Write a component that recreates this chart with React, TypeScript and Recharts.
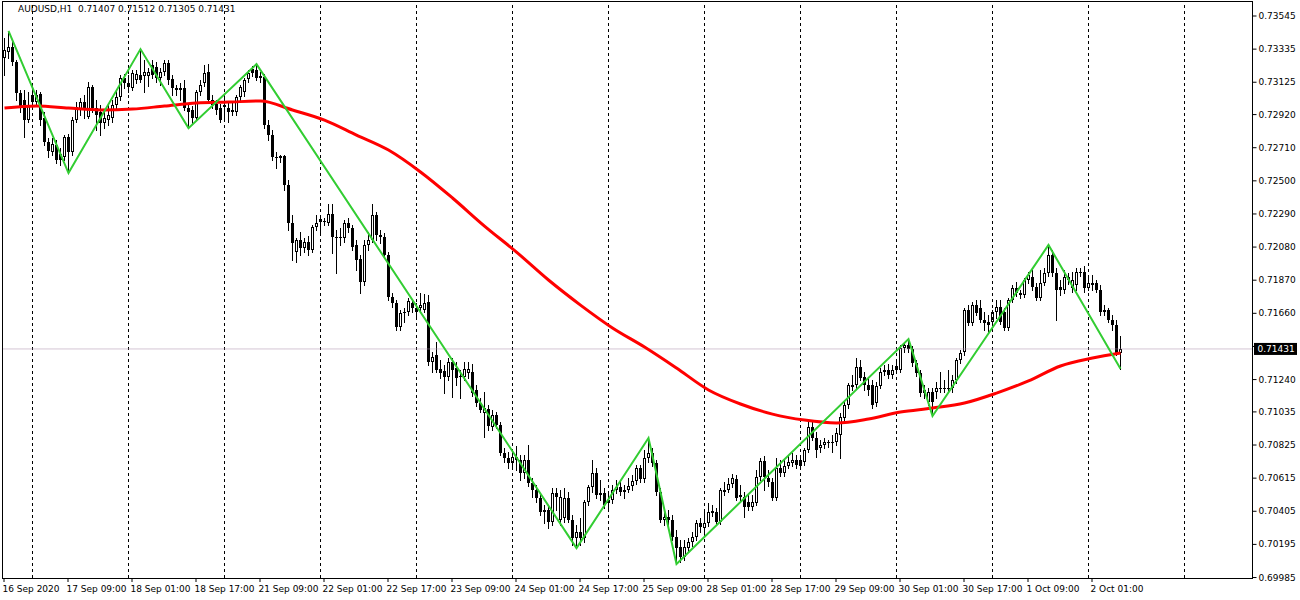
import { ComposedChart, Bar, Line, XAxis, YAxis, ReferenceLine } from 'recharts'

// AUDUSD H1, one entry per bar, oldest first
const opens = [
  0.73275, 0.73313, 0.73345, 0.73250, 0.73053, 0.73009, 0.72882, 0.73041, 0.72996, 0.73047,
  0.72895, 0.72743, 0.72679, 0.72724, 0.72667, 0.72648, 0.72775, 0.72679, 0.72882, 0.72946,
  0.72996, 0.72902, 0.73091, 0.72958, 0.72933, 0.72863, 0.72882, 0.72895, 0.72977, 0.73028,
  0.73148, 0.73117, 0.73085, 0.73136, 0.73167, 0.73161, 0.73161, 0.73231, 0.73218, 0.73148,
  0.73186, 0.73244, 0.73142, 0.73085, 0.73072, 0.73085, 0.72958, 0.72946, 0.72895, 0.73060,
  0.73117, 0.73186, 0.73009, 0.72984, 0.72958, 0.72965, 0.72958, 0.72946, 0.72933, 0.73028,
  0.73060, 0.73142, 0.73206, 0.73199, 0.73148, 0.73155, 0.72850, 0.72787, 0.72648, 0.72641,
  0.72654, 0.72470, 0.72229, 0.72045, 0.72121, 0.72070, 0.72109, 0.72058, 0.72204, 0.72254,
  0.72236, 0.72229, 0.72286, 0.72140, 0.72140, 0.72134, 0.72229, 0.72197, 0.72090, 0.72001,
  0.71855, 0.72090, 0.72121, 0.72280, 0.72153, 0.72140, 0.72026, 0.71760, 0.71722, 0.71570,
  0.71665, 0.71665, 0.71722, 0.71691, 0.71691, 0.71678, 0.71729, 0.71348, 0.71392, 0.71304,
  0.71291, 0.71253, 0.71348, 0.71310, 0.71253, 0.71253, 0.71278, 0.71285, 0.71170, 0.71088,
  0.71025, 0.71050, 0.70936, 0.71012, 0.70949, 0.70771, 0.70740, 0.70708, 0.70746, 0.70727,
  0.70644, 0.70727, 0.70581, 0.70536, 0.70486, 0.70397, 0.70410, 0.70334, 0.70517, 0.70346,
  0.70359, 0.70486, 0.70346, 0.70232, 0.70270, 0.70232, 0.70460, 0.70555, 0.70644, 0.70505,
  0.70517, 0.70473, 0.70473, 0.70536, 0.70555, 0.70524, 0.70536, 0.70562, 0.70594, 0.70676,
  0.70606, 0.70740, 0.70771, 0.70708, 0.70524, 0.70346, 0.70365, 0.70346, 0.70238, 0.70175,
  0.70112, 0.70169, 0.70207, 0.70238, 0.70327, 0.70295, 0.70327, 0.70403, 0.70397, 0.70334,
  0.70524, 0.70536, 0.70575, 0.70606, 0.70505, 0.70492, 0.70460, 0.70429, 0.70454, 0.70619,
  0.70721, 0.70613, 0.70587, 0.70486, 0.70676, 0.70644, 0.70689, 0.70708, 0.70727, 0.70727,
  0.70714, 0.70790, 0.70936, 0.70866, 0.70803, 0.70822, 0.70835, 0.70841, 0.70841, 0.70885,
  0.70993, 0.71075, 0.71202, 0.71202, 0.71316, 0.71253, 0.71202, 0.71202, 0.71088, 0.71196,
  0.71285, 0.71297, 0.71266, 0.71323, 0.71297, 0.71437, 0.71456, 0.71430, 0.71342, 0.71278,
  0.71170, 0.71094, 0.71158, 0.71158, 0.71177, 0.71177, 0.71177, 0.71183, 0.71234, 0.71361,
  0.71411, 0.71678, 0.71595, 0.71710, 0.71691, 0.71614, 0.71602, 0.71602, 0.71665, 0.71697,
  0.71665, 0.71563, 0.71741, 0.71817, 0.71773, 0.71773, 0.71868, 0.71887, 0.71824, 0.71754,
  0.71849, 0.71912, 0.72026, 0.71912, 0.71824, 0.71804, 0.71887, 0.71817, 0.71836, 0.71912,
  0.71919, 0.71817, 0.71849, 0.71849, 0.71804, 0.71678, 0.71678, 0.71614, 0.71583, 0.71407,
]

const highs = [
  0.73402, 0.73447, 0.73377, 0.73263, 0.73072, 0.73072, 0.73060, 0.73085, 0.73072, 0.73060,
  0.72933, 0.72768, 0.72768, 0.72755, 0.72705, 0.72787, 0.72794, 0.72902, 0.72996, 0.73022,
  0.73041, 0.73123, 0.73104, 0.73009, 0.72977, 0.72946, 0.72977, 0.73009, 0.73072, 0.73167,
  0.73174, 0.73167, 0.73199, 0.73199, 0.73332, 0.73263, 0.73212, 0.73263, 0.73250, 0.73212,
  0.73263, 0.73263, 0.73167, 0.73104, 0.73117, 0.73136, 0.72984, 0.72971, 0.73072, 0.73136,
  0.73231, 0.73237, 0.73041, 0.73009, 0.72984, 0.73041, 0.72996, 0.72990, 0.73041, 0.73104,
  0.73148, 0.73199, 0.73225, 0.73237, 0.73186, 0.73174, 0.72882, 0.72819, 0.72679, 0.72660,
  0.72660, 0.72502, 0.72280, 0.72134, 0.72172, 0.72134, 0.72147, 0.72216, 0.72280, 0.72280,
  0.72261, 0.72350, 0.72350, 0.72185, 0.72197, 0.72248, 0.72261, 0.72216, 0.72121, 0.72026,
  0.72121, 0.72172, 0.72350, 0.72299, 0.72185, 0.72166, 0.72045, 0.71785, 0.71741, 0.71678,
  0.71691, 0.71754, 0.71748, 0.71722, 0.71785, 0.71779, 0.71773, 0.71411, 0.71475, 0.71361,
  0.71329, 0.71373, 0.71373, 0.71348, 0.71297, 0.71348, 0.71348, 0.71335, 0.71202, 0.71120,
  0.71158, 0.71075, 0.71044, 0.71031, 0.70968, 0.70803, 0.70777, 0.70790, 0.70816, 0.70758,
  0.70758, 0.70822, 0.70613, 0.70568, 0.70505, 0.70441, 0.70441, 0.70549, 0.70549, 0.70536,
  0.70549, 0.70524, 0.70378, 0.70314, 0.70359, 0.70473, 0.70568, 0.70727, 0.70676, 0.70600,
  0.70549, 0.70511, 0.70568, 0.70600, 0.70600, 0.70568, 0.70613, 0.70632, 0.70695, 0.70695,
  0.70790, 0.70866, 0.70803, 0.70727, 0.70549, 0.70397, 0.70410, 0.70378, 0.70283, 0.70219,
  0.70219, 0.70232, 0.70270, 0.70346, 0.70359, 0.70410, 0.70454, 0.70441, 0.70422, 0.70549,
  0.70587, 0.70613, 0.70638, 0.70632, 0.70568, 0.70524, 0.70505, 0.70505, 0.70663, 0.70740,
  0.70752, 0.70663, 0.70613, 0.70740, 0.70727, 0.70727, 0.70758, 0.70771, 0.70758, 0.70758,
  0.70803, 0.70968, 0.70968, 0.70904, 0.70853, 0.70866, 0.70853, 0.70885, 0.70930, 0.71025,
  0.71094, 0.71215, 0.71265, 0.71373, 0.71361, 0.71285, 0.71246, 0.71234, 0.71221, 0.71310,
  0.71329, 0.71335, 0.71329, 0.71348, 0.71456, 0.71475, 0.71494, 0.71449, 0.71361, 0.71297,
  0.71202, 0.71183, 0.71183, 0.71221, 0.71285, 0.71234, 0.71297, 0.71265, 0.71373, 0.71424,
  0.71691, 0.71710, 0.71729, 0.71741, 0.71741, 0.71665, 0.71646, 0.71678, 0.71741, 0.71741,
  0.71691, 0.71754, 0.71836, 0.71855, 0.71804, 0.71881, 0.71919, 0.71931, 0.71849, 0.71931,
  0.71944, 0.72090, 0.72058, 0.71944, 0.71868, 0.71931, 0.71912, 0.71919, 0.71944, 0.71944,
  0.71957, 0.71881, 0.71900, 0.71868, 0.71836, 0.71710, 0.71691, 0.71646, 0.71614, 0.71512,
]

const lows = [
  0.73167, 0.73275, 0.73231, 0.73009, 0.72933, 0.72775, 0.72869, 0.72971, 0.72971, 0.72850,
  0.72724, 0.72648, 0.72660, 0.72610, 0.72597, 0.72629, 0.72546, 0.72660, 0.72869, 0.72914,
  0.72895, 0.72895, 0.72933, 0.72819, 0.72787, 0.72831, 0.72850, 0.72869, 0.72958, 0.73009,
  0.73085, 0.73060, 0.73072, 0.73117, 0.73123, 0.73060, 0.73098, 0.73148, 0.73123, 0.73104,
  0.73167, 0.73110, 0.73041, 0.73041, 0.73009, 0.72946, 0.72831, 0.72857, 0.72882, 0.73041,
  0.73098, 0.72990, 0.72958, 0.72920, 0.72869, 0.72895, 0.72869, 0.72914, 0.72914, 0.73009,
  0.73034, 0.73123, 0.73161, 0.73136, 0.73123, 0.72831, 0.72755, 0.72629, 0.72578, 0.72616,
  0.72438, 0.72185, 0.71995, 0.71982, 0.72026, 0.72045, 0.72026, 0.72045, 0.72185, 0.72172,
  0.72216, 0.72216, 0.72039, 0.71912, 0.72090, 0.72109, 0.72172, 0.72058, 0.71931, 0.71785,
  0.71836, 0.72058, 0.72109, 0.72121, 0.72102, 0.72007, 0.71741, 0.71697, 0.71551, 0.71551,
  0.71602, 0.71646, 0.71665, 0.71640, 0.71665, 0.71665, 0.71329, 0.71285, 0.71285, 0.71246,
  0.71151, 0.71234, 0.71126, 0.71202, 0.71120, 0.71234, 0.71246, 0.71132, 0.71069, 0.71031,
  0.70873, 0.70917, 0.70917, 0.70930, 0.70758, 0.70714, 0.70676, 0.70689, 0.70663, 0.70600,
  0.70613, 0.70562, 0.70492, 0.70460, 0.70378, 0.70327, 0.70295, 0.70314, 0.70410, 0.70314,
  0.70334, 0.70334, 0.70188, 0.70168, 0.70188, 0.70207, 0.70441, 0.70524, 0.70486, 0.70473,
  0.70422, 0.70422, 0.70454, 0.70517, 0.70505, 0.70486, 0.70524, 0.70536, 0.70575, 0.70587,
  0.70587, 0.70714, 0.70689, 0.70505, 0.70334, 0.70314, 0.70314, 0.70219, 0.70067, 0.70080,
  0.70093, 0.70143, 0.70181, 0.70219, 0.70270, 0.70270, 0.70308, 0.70372, 0.70314, 0.70321,
  0.70505, 0.70524, 0.70555, 0.70473, 0.70473, 0.70365, 0.70410, 0.70410, 0.70441, 0.70600,
  0.70536, 0.70562, 0.70473, 0.70473, 0.70625, 0.70625, 0.70676, 0.70689, 0.70676, 0.70676,
  0.70695, 0.70777, 0.70853, 0.70746, 0.70777, 0.70803, 0.70809, 0.70777, 0.70822, 0.70740,
  0.70980, 0.71056, 0.71170, 0.71183, 0.71234, 0.71170, 0.71139, 0.71056, 0.71069, 0.71183,
  0.71266, 0.71246, 0.71246, 0.71278, 0.71285, 0.71411, 0.71411, 0.71323, 0.71259, 0.71132,
  0.71120, 0.71075, 0.71006, 0.71120, 0.71158, 0.71158, 0.71158, 0.71158, 0.71215, 0.71342,
  0.71392, 0.71583, 0.71583, 0.71646, 0.71602, 0.71551, 0.71538, 0.71583, 0.71627, 0.71589,
  0.71551, 0.71551, 0.71728, 0.71766, 0.71754, 0.71760, 0.71849, 0.71804, 0.71741, 0.71741,
  0.71836, 0.71893, 0.71893, 0.71614, 0.71773, 0.71785, 0.71842, 0.71792, 0.71804, 0.71893,
  0.71792, 0.71804, 0.71804, 0.71792, 0.71646, 0.71646, 0.71602, 0.71551, 0.71392, 0.71305,
]

const closes = [
  0.73326, 0.73345, 0.73250, 0.73053, 0.72965, 0.72882, 0.72977, 0.72996, 0.73041, 0.72882,
  0.72743, 0.72686, 0.72730, 0.72629, 0.72629, 0.72775, 0.72679, 0.72882, 0.72965, 0.72996,
  0.72958, 0.73091, 0.72958, 0.72914, 0.72863, 0.72895, 0.72914, 0.72977, 0.73028, 0.73148,
  0.73117, 0.73091, 0.73180, 0.73174, 0.73136, 0.73186, 0.73186, 0.73167, 0.73148, 0.73186,
  0.73244, 0.73136, 0.73085, 0.73072, 0.73085, 0.72958, 0.72933, 0.72895, 0.73060, 0.73104,
  0.73180, 0.73009, 0.72977, 0.72946, 0.72882, 0.72977, 0.72933, 0.72933, 0.73028, 0.73091,
  0.73136, 0.73180, 0.73180, 0.73148, 0.73161, 0.72850, 0.72787, 0.72648, 0.72641, 0.72654,
  0.72470, 0.72229, 0.72102, 0.72121, 0.72070, 0.72109, 0.72058, 0.72204, 0.72229, 0.72236,
  0.72242, 0.72286, 0.72140, 0.72134, 0.72134, 0.72229, 0.72197, 0.72077, 0.71995, 0.71855,
  0.72090, 0.72121, 0.72280, 0.72153, 0.72140, 0.72026, 0.71760, 0.71722, 0.71570, 0.71659,
  0.71659, 0.71735, 0.71691, 0.71665, 0.71710, 0.71722, 0.71348, 0.71380, 0.71297, 0.71278,
  0.71253, 0.71348, 0.71297, 0.71246, 0.71259, 0.71304, 0.71304, 0.71151, 0.71088, 0.71044,
  0.71056, 0.70942, 0.71012, 0.70949, 0.70771, 0.70740, 0.70708, 0.70746, 0.70727, 0.70644,
  0.70727, 0.70581, 0.70536, 0.70486, 0.70397, 0.70410, 0.70334, 0.70517, 0.70492, 0.70492,
  0.70486, 0.70346, 0.70232, 0.70270, 0.70232, 0.70460, 0.70555, 0.70644, 0.70505, 0.70517,
  0.70441, 0.70454, 0.70536, 0.70555, 0.70524, 0.70536, 0.70562, 0.70594, 0.70676, 0.70606,
  0.70740, 0.70771, 0.70708, 0.70524, 0.70346, 0.70365, 0.70346, 0.70238, 0.70169, 0.70112,
  0.70175, 0.70207, 0.70238, 0.70327, 0.70302, 0.70327, 0.70397, 0.70391, 0.70334, 0.70536,
  0.70536, 0.70575, 0.70613, 0.70486, 0.70492, 0.70429, 0.70429, 0.70460, 0.70619, 0.70721,
  0.70619, 0.70587, 0.70486, 0.70676, 0.70644, 0.70689, 0.70714, 0.70727, 0.70695, 0.70689,
  0.70790, 0.70936, 0.70866, 0.70790, 0.70822, 0.70841, 0.70841, 0.70835, 0.70898, 0.70999,
  0.71075, 0.71202, 0.71190, 0.71316, 0.71246, 0.71202, 0.71170, 0.71075, 0.71196, 0.71285,
  0.71297, 0.71266, 0.71297, 0.71297, 0.71437, 0.71456, 0.71430, 0.71342, 0.71278, 0.71151,
  0.71151, 0.71158, 0.71094, 0.71183, 0.71183, 0.71183, 0.71183, 0.71234, 0.71361, 0.71405,
  0.71678, 0.71595, 0.71710, 0.71659, 0.71614, 0.71595, 0.71583, 0.71665, 0.71697, 0.71602,
  0.71563, 0.71741, 0.71817, 0.71785, 0.71785, 0.71868, 0.71899, 0.71824, 0.71754, 0.71849,
  0.71912, 0.72026, 0.71912, 0.71804, 0.71804, 0.71887, 0.71868, 0.71868, 0.71919, 0.71919,
  0.71817, 0.71849, 0.71836, 0.71804, 0.71665, 0.71665, 0.71614, 0.71583, 0.71405, 0.71431,
]

// moving average every 8 bars
const maBars = [
  0, 8, 16, 24, 32, 40, 48, 56, 64, 72, 80, 88, 96, 104, 112, 120, 128, 136,
  144, 152, 160, 168, 176, 184, 192, 200, 208, 216, 224, 232, 240, 248, 256, 264, 272, 279,
]
const maValues = [
  0.72958, 0.72971, 0.72958, 0.72946, 0.72952, 0.72971, 0.72990, 0.72996, 0.73003,
  0.72946, 0.72882, 0.72787, 0.72692, 0.72553, 0.72388, 0.72210, 0.72045, 0.71868,
  0.71709, 0.71564, 0.71443, 0.71310, 0.71171, 0.71082, 0.71018, 0.70980, 0.70962,
  0.70987, 0.71031, 0.71056, 0.71088, 0.71151, 0.71228, 0.71323, 0.71373, 0.71405,
]

// zigzag turning points
const zigzagBars = [1, 16, 34, 46, 63, 143, 161, 168, 226, 232, 261, 279]
const zigzagValues = [
  0.73447, 0.72546, 0.73332, 0.72831, 0.73237, 0.70168,
  0.70866, 0.70067, 0.71494, 0.71006, 0.72090, 0.71305,
]

const timeLabelBars = [0, 16, 32, 48, 64, 80, 96, 112, 128, 144, 160, 176, 192, 208, 224, 240, 256, 272]
const timeLabels = [
  '16 Sep 2020', '17 Sep 09:00', '18 Sep 01:00', '18 Sep 17:00', '21 Sep 09:00', '22 Sep 01:00',
  '22 Sep 17:00', '23 Sep 09:00', '24 Sep 01:00', '24 Sep 17:00', '25 Sep 09:00', '28 Sep 01:00',
  '28 Sep 17:00', '29 Sep 09:00', '30 Sep 01:00', '30 Sep 17:00', '1 Oct 09:00', '2 Oct 01:00',
]
const dayStartBars = [7, 31, 55, 79, 103, 127, 151, 175, 199, 223, 247, 271, 295]

const priceTicks = [
  0.73545, 0.73335, 0.73125, 0.7292, 0.7271, 0.725, 0.7229, 0.7208, 0.7187,
  0.7166, 0.7145, 0.7124, 0.71035, 0.70825, 0.70615, 0.70405, 0.70195, 0.69985,
]
const lastPrice = 0.71431
const SLOTS = 312
const PRICE_MIN = 0.699788
const PRICE_MAX = 0.736306

const FONT = '"DejaVu Sans", Tahoma, sans-serif'

const rows: any[] = Array.from({ length: SLOTS }, (_, i) => {
  const row: any = { i }
  if (i < closes.length) {
    row.o = opens[i]
    row.h = highs[i]
    row.l = lows[i]
    row.c = closes[i]
    row.range = [lows[i], highs[i]]
  }
  return row
})
maBars.forEach((b, k) => (rows[b].ma = maValues[k]))
zigzagBars.forEach((b, k) => (rows[b].zz = zigzagValues[k]))

function Candle(props: any) {
  const { x, y, width, height, payload } = props
  if (!payload || payload.o == null || y == null || height == null) return null
  const { o, h, l, c } = payload
  const top = Math.min(y, y + height)
  const span = Math.abs(height)
  const toY = (p: number) => (h === l ? top : top + ((h - p) / (h - l)) * span)
  const cx = x + width / 2
  const yH = Math.round(top)
  const yL = Math.round(top + span)
  const yO = Math.round(toY(o))
  const yC = Math.round(toY(c))
  const bTop = Math.min(yO, yC)
  const bBot = Math.max(yO, yC)
  const bull = c >= o
  return (
    <g>
      <line x1={cx} x2={cx} y1={yH} y2={yL + 1} stroke="#000" strokeWidth={1} />
      {bull && bBot - bTop >= 2 ? (
        <rect x={cx - 1} y={bTop + 0.5} width={2} height={bBot - bTop - 1} fill="#fff" stroke="#000" strokeWidth={1} />
      ) : (
        <rect x={cx - 1.5} y={bTop} width={3} height={Math.max(1, bBot - bTop)} fill="#000" />
      )}
    </g>
  )
}

function PriceTick(props: any) {
  const { x, y, payload } = props
  // the level nearest the last price sits under the price tag, as in the terminal
  const hidden = Math.abs(payload.value - lastPrice) < 0.0005
  return (
    <g>
      <line x1={x - 6} x2={x - 2} y1={y + 0.5} y2={y + 0.5} stroke="#000" />
      {!hidden && (
        <text x={x} y={y + 3.5} fontSize={9} fontFamily={FONT} fill="#000">
          {payload.value.toFixed(5)}
        </text>
      )}
    </g>
  )
}

function TimeTick(props: any) {
  const { x, y, payload } = props
  const k = timeLabelBars.indexOf(payload.value)
  if (k < 0) return null
  return (
    <g>
      <line x1={x - 0.5} x2={x - 0.5} y1={y} y2={y + 4} stroke="#000" />
      <text x={x - 2} y={y + 14} fontSize={9} fontFamily={FONT} fill="#000">
        {timeLabels[k]}
      </text>
    </g>
  )
}

function LastPriceTag(props: any) {
  const vb = props.viewBox || {}
  const y = vb.y
  const right = vb.x + vb.width
  return (
    <g>
      <rect x={right + 1.5} y={y - 6} width={43} height={12} fill="#000" />
      <text x={right + 5} y={y + 3.5} fontSize={9} fontFamily={FONT} fill="#fff">
        {lastPrice.toFixed(5)}
      </text>
    </g>
  )
}

export default function App() {
  return (
    <div style={{ position: 'absolute', left: 0, top: 0, width: 1300, height: 600, background: '#fff' }}>
      <ComposedChart
        width={1300}
        height={600}
        data={rows}
        margin={{ top: 2, right: 0, bottom: 0, left: 2.5 }}
        barCategoryGap={0}
        barGap={0}
      >
        <XAxis
          dataKey="i"
          type="category"
          height={22}
          interval={0}
          axisLine={false}
          tickLine={false}
          tickSize={0}
          tickMargin={0}
          padding={{ left: 0, right: 2 }}
          tick={<TimeTick />}
        />
        <YAxis
          orientation="right"
          type="number"
          width={47.5}
          domain={[PRICE_MIN, PRICE_MAX]}
          allowDataOverflow
          ticks={priceTicks}
          interval={0}
          axisLine={false}
          tickLine={false}
          tickSize={4}
          tickMargin={2}
          tick={<PriceTick />}
        />
        {dayStartBars.map((b) => (
          <ReferenceLine key={b} x={b} stroke="#000" strokeDasharray="3 3" strokeWidth={1} />
        ))}
        <ReferenceLine
          y={lastPrice}
          stroke="#a98ba9"
          strokeDasharray="1 1"
          strokeWidth={1}
          label={(p: any) => <LastPriceTag {...p} />}
        />
        <Bar dataKey="range" isAnimationActive={false} shape={(p: any) => <Candle {...p} />} />
        <Line
          dataKey="ma"
          type="monotone"
          stroke="#ff0000"
          strokeWidth={3}
          dot={false}
          activeDot={false}
          connectNulls
          isAnimationActive={false}
        />
        <Line
          dataKey="zz"
          type="linear"
          stroke="#32cd32"
          strokeWidth={2}
          dot={false}
          activeDot={false}
          connectNulls
          isAnimationActive={false}
        />
      </ComposedChart>
      <div
        style={{
          position: 'absolute',
          left: 2,
          top: 1,
          width: 1251,
          height: 578,
          border: '1px solid #000',
          boxSizing: 'border-box',
          pointerEvents: 'none',
        }}
      />
      <div
        style={{
          position: 'absolute',
          left: 18,
          top: 4,
          fontFamily: FONT,
          fontSize: 9,
          color: '#000',
          whiteSpace: 'pre',
        }}
      >
        {'AUDUSD,H1  0.71407 0.71512 0.71305 0.71431'}
      </div>
    </div>
  )
}
